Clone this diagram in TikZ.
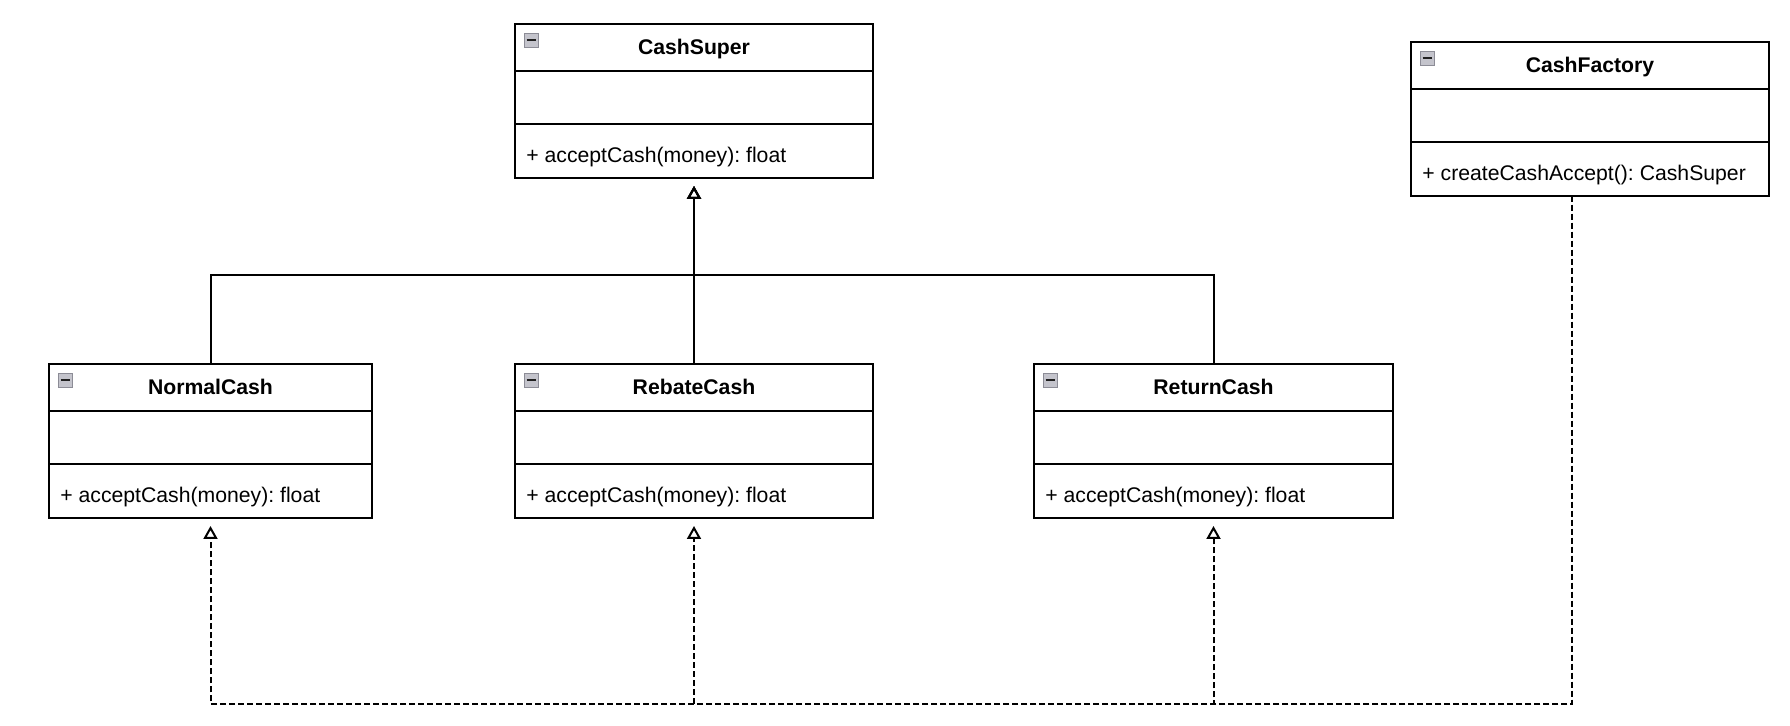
\documentclass[tikz,border=0pt]{standalone}
\usepackage{fontspec}
\setmainfont{Liberation Sans}
\usetikzlibrary{positioning,arrows.meta,calc}
\definecolor{icofill}{HTML}{C4C4CC}
\definecolor{icoedge}{HTML}{8C8C96}
\definecolor{icomark}{HTML}{202020}
\frenchspacing
\tikzset{
  cls/.style={draw,line width=1pt,minimum height=77pt,inner sep=0pt,outer sep=0pt},
  sep/.style={line width=0.75pt},
  ttl/.style={font=\fontsize{10.6}{12}\selectfont\bfseries,anchor=base,inner sep=0pt},
  op/.style={font=\fontsize{10.6}{12}\selectfont,anchor=base west,inner sep=0pt},
  ico/.style={draw=icoedge,fill=icofill,line width=0.5pt,minimum size=7pt,inner sep=0pt,anchor=north west},
  gen/.style={-{Triangle[open,length=6.5pt,width=7pt]},line width=1pt,shorten >=4pt},
  real/.style={gen,dash pattern=on 3pt off 1.5pt},
}

\begin{document}
\begin{tikzpicture}[x=0.5pt,y=-0.5pt]
\path[use as bounding box,fill=white] (0,0) rectangle (1790,726);
% classes
\foreach \n/\x/\y/\w/\t/\o in {super/694/101/179pt/CashSuper/+ acceptCash(money): float,
  factory/1590/119/179pt/CashFactory/+ createCashAccept(): CashSuper,
  normal/210.5/441/161.5pt/NormalCash/+ acceptCash(money): float,
  rebate/694/441/179pt/RebateCash/+ acceptCash(money): float,
  return/1213.5/441/179.5pt/ReturnCash/+ acceptCash(money): float}{
  \node[cls,minimum width=\w] (\n) at (\x,\y) {};
  \draw[sep] ($(\n.north west)+(0,47)$) -- ($(\n.north east)+(0,47)$);
  \draw[sep] ($(\n.north west)+(0,100)$) -- ($(\n.north east)+(0,100)$);
  \node[ttl] (\n-t) at ($(\n.north)+(0,31)$) {\t};
  \node[op] (\n-o) at ($(\n.south west)+(11,-15.5)$) {\o};
  \node[ico] (\n-i) at ($(\n.north west)+(9,9)$) {};
  \draw[icomark,line width=1pt] ([xshift=1.3pt]\n-i.west) -- ([xshift=-1.3pt]\n-i.east);
}
\coordinate (bus) at (694,275);
\coordinate (low) at (0,704);
\coordinate (fout) at ($(factory.south)+(-18,0)$);
% generalisation
\foreach \n in {normal,rebate,return}{\draw[gen] (\n.north) |- (bus) -- (super.south);}
% realisation
\foreach \n in {normal,rebate,return}{\draw[real] (fout) |- (\n.south |- low) -- (\n.south);}
\end{tikzpicture}
\end{document}
